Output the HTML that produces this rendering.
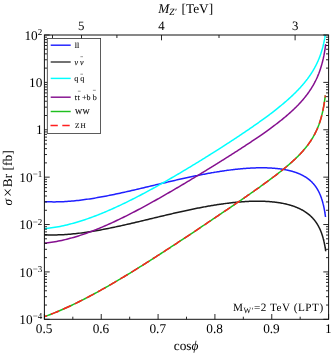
<!DOCTYPE html>
<html><head><meta charset="utf-8"><title>plot</title>
<style>html,body{margin:0;padding:0;background:#fff;}body{width:332px;height:355px;overflow:hidden;position:relative;font-family:"Liberation Serif",serif;}</style></head>
<body>
<svg width="332" height="355" viewBox="0 0 332 355" style="position:absolute;left:0;top:0">
<rect width="332" height="355" fill="#fff"/>
<g fill="none" stroke-width="1.5" stroke-linejoin="round">
<path d="M44.50,201.64 L46.26,201.72 L48.01,201.79 L49.75,201.84 L51.49,201.87 L53.22,201.88 L54.95,201.88 L56.66,201.86 L58.37,201.83 L60.08,201.78 L61.78,201.71 L63.47,201.63 L65.15,201.54 L66.83,201.44 L68.50,201.32 L70.17,201.19 L71.83,201.05 L73.48,200.90 L75.13,200.74 L76.77,200.57 L78.40,200.39 L80.03,200.20 L81.65,200.00 L83.26,199.79 L84.87,199.58 L86.47,199.35 L88.06,199.12 L89.65,198.89 L91.23,198.64 L92.81,198.39 L94.38,198.14 L95.94,197.88 L97.50,197.61 L99.05,197.34 L100.59,197.06 L102.13,196.78 L103.66,196.50 L105.18,196.21 L106.70,195.91 L108.21,195.62 L109.72,195.32 L111.22,195.02 L112.71,194.71 L114.20,194.40 L115.68,194.09 L117.16,193.78 L118.62,193.47 L120.09,193.15 L121.54,192.83 L122.99,192.52 L124.43,192.20 L125.87,191.87 L127.30,191.55 L128.73,191.23 L130.15,190.91 L131.56,190.58 L132.97,190.26 L134.37,189.93 L135.76,189.61 L137.15,189.29 L138.53,188.96 L139.91,188.64 L141.27,188.32 L142.64,187.99 L144.00,187.67 L145.35,187.35 L146.69,187.03 L148.03,186.71 L149.37,186.39 L150.69,186.08 L152.01,185.76 L153.33,185.45 L154.64,185.14 L155.94,184.83 L157.24,184.52 L158.53,184.21 L159.82,183.90 L161.10,183.60 L162.37,183.30 L163.64,183.00 L164.90,182.70 L166.15,182.41 L167.40,182.11 L168.65,181.82 L169.89,181.53 L171.12,181.25 L172.34,180.96 L173.56,180.68 L174.78,180.40 L175.99,180.13 L177.19,179.85 L178.39,179.58 L179.58,179.31 L180.76,179.05 L181.94,178.78 L183.12,178.52 L184.29,178.27 L185.45,178.01 L186.60,177.76 L187.75,177.51 L188.90,177.26 L190.04,177.02 L191.17,176.78 L192.30,176.54 L193.42,176.31 L194.54,176.08 L195.65,175.85 L196.75,175.63 L197.85,175.41 L198.95,175.19 L200.04,174.97 L201.12,174.76 L202.20,174.55 L203.27,174.34 L204.33,174.14 L205.39,173.94 L206.45,173.74 L207.50,173.55 L208.54,173.36 L209.58,173.17 L210.61,172.99 L211.64,172.81 L212.66,172.63 L213.67,172.46 L214.68,172.29 L215.69,172.12 L216.69,171.96 L217.68,171.80 L218.67,171.64 L219.65,171.48 L220.63,171.33 L221.60,171.18 L222.57,171.04 L223.53,170.90 L224.48,170.76 L225.43,170.62 L226.38,170.49 L227.32,170.36 L228.25,170.24 L229.18,170.12 L230.11,170.00 L231.02,169.88 L231.94,169.77 L232.84,169.66 L233.75,169.55 L234.64,169.45 L235.53,169.35 L236.42,169.25 L237.30,169.16 L238.18,169.07 L239.05,168.98 L239.91,168.90 L240.77,168.82 L241.63,168.74 L242.48,168.67 L243.32,168.59 L244.16,168.53 L245.00,168.46 L245.83,168.40 L246.65,168.34 L247.47,168.28 L248.28,168.23 L249.09,168.18 L249.89,168.13 L250.69,168.09 L251.49,168.05 L252.27,168.01 L253.06,167.97 L253.84,167.94 L254.61,167.91 L255.38,167.89 L256.14,167.86 L256.90,167.84 L257.65,167.83 L258.40,167.81 L259.14,167.80 L259.88,167.79 L260.61,167.79 L261.34,167.78 L262.06,167.78 L262.78,167.79 L263.50,167.79 L264.21,167.80 L264.91,167.81 L265.61,167.83 L266.30,167.85 L266.99,167.87 L267.68,167.89 L268.35,167.92 L269.03,167.94 L269.70,167.98 L270.36,168.01 L271.02,168.05 L271.68,168.09 L272.33,168.13 L272.98,168.17 L273.62,168.22 L274.25,168.27 L274.89,168.33 L275.51,168.38 L276.14,168.44 L276.75,168.51 L277.37,168.57 L277.98,168.64 L278.58,168.71 L279.18,168.78 L279.77,168.86 L280.36,168.93 L280.95,169.01 L281.53,169.10 L282.11,169.19 L282.68,169.27 L283.25,169.37 L283.81,169.46 L284.37,169.56 L284.92,169.66 L285.47,169.76 L286.01,169.87 L286.55,169.97 L287.09,170.08 L287.62,170.20 L288.15,170.31 L288.67,170.43 L289.19,170.55 L289.70,170.68 L290.21,170.80 L290.72,170.93 L291.22,171.07 L291.71,171.20 L292.20,171.34 L292.69,171.48 L293.17,171.62 L293.65,171.77 L294.13,171.92 L294.60,172.07 L295.06,172.22 L295.53,172.38 L295.98,172.54 L296.44,172.70 L296.89,172.86 L297.33,173.03 L297.77,173.20 L298.21,173.38 L298.64,173.55 L299.07,173.73 L299.49,173.91 L299.91,174.10 L300.33,174.28 L300.74,174.47 L301.15,174.67 L301.55,174.86 L301.95,175.06 L302.35,175.26 L302.74,175.46 L303.13,175.67 L303.51,175.88 L303.89,176.09 L304.27,176.31 L304.64,176.53 L305.01,176.75 L305.37,176.97 L305.73,177.20 L306.09,177.43 L306.44,177.66 L306.79,177.90 L307.13,178.14 L307.47,178.38 L307.81,178.62 L308.14,178.87 L308.47,179.12 L308.80,179.37 L309.12,179.63 L309.44,179.89 L309.75,180.15 L310.06,180.42 L310.37,180.69 L310.67,180.96 L310.97,181.23 L311.27,181.51 L311.56,181.79 L311.85,182.08 L312.13,182.36 L312.42,182.65 L312.69,182.95 L312.97,183.24 L313.24,183.54 L313.51,183.85 L313.77,184.15 L314.03,184.46 L314.29,184.77 L314.54,185.09 L314.79,185.40 L315.04,185.72 L315.28,186.05 L315.52,186.37 L315.75,186.70 L315.99,187.04 L316.22,187.37 L316.44,187.71 L316.66,188.05 L316.88,188.40 L317.10,188.75 L317.31,189.10 L317.52,189.45 L317.73,189.81 L317.93,190.17 L318.13,190.53 L318.33,190.89 L318.52,191.26 L318.71,191.63 L318.90,192.00 L319.08,192.38 L319.26,192.75 L319.44,193.13 L319.61,193.52 L319.79,193.90 L319.95,194.29 L320.12,194.68 L320.28,195.07 L320.44,195.46 L320.60,195.85 L320.75,196.25 L320.90,196.65 L321.05,197.05 L321.20,197.45 L321.34,197.85 L321.48,198.25 L321.61,198.66 L321.75,199.06 L321.88,199.47 L322.01,199.88 L322.13,200.28 L322.25,200.69 L322.37,201.10 L322.49,201.51 L322.60,201.91 L322.72,202.32 L322.83,202.73 L322.93,203.13 L323.04,203.53 L323.14,203.94 L323.24,204.34 L323.33,204.74 L323.43,205.13 L323.52,205.53 L323.61,205.92 L323.69,206.31 L323.78,206.69 L323.86,207.08 L323.94,207.45 L324.01,207.83 L324.09,208.20 L324.16,208.56 L324.23,208.92 L324.30,209.28 L324.37,209.63 L324.43,209.97 L324.49,210.31 L324.55,210.64 L324.61,210.97 L324.66,211.29 L324.71,211.60 L324.76,211.90 L324.81,212.20 L324.86,212.48 L324.90,212.76 L324.95,213.03 L324.99,213.30 L325.03,213.55 L325.06,213.80 L325.10,214.03 L325.13,214.26 L325.17,214.47 L325.20,214.68 L325.22,214.88 L325.25,215.06 L325.28,215.24 L325.30,215.41 L325.32,215.57 L325.34,215.72 L325.36,215.85 L325.38,215.98 L325.39,216.10 L325.41,216.21 L325.42,216.31 L325.44,216.40 L325.45,216.49 L325.46,216.56 L325.46,216.62 L325.47,216.68 L325.48,216.73 L325.48,216.77 L325.49,216.81 L325.49,216.83 L325.50,216.86 L325.50,216.87 L325.50,216.88 L325.50,216.89 L325.50,216.89 L325.50,216.89" stroke="#1f1fff"/>
<path d="M44.50,234.76 L46.26,234.83 L48.01,234.89 L49.76,234.93 L51.49,234.95 L53.23,234.95 L54.95,234.94 L56.67,234.91 L58.38,234.86 L60.09,234.81 L61.79,234.73 L63.48,234.64 L65.17,234.54 L66.85,234.43 L68.52,234.31 L70.19,234.17 L71.85,234.02 L73.50,233.86 L75.15,233.69 L76.79,233.51 L78.42,233.33 L80.05,233.13 L81.67,232.92 L83.29,232.71 L84.90,232.49 L86.50,232.26 L88.10,232.02 L89.68,231.78 L91.27,231.53 L92.84,231.27 L94.41,231.01 L95.98,230.74 L97.54,230.47 L99.09,230.19 L100.63,229.91 L102.17,229.62 L103.70,229.33 L105.23,229.04 L106.75,228.74 L108.26,228.44 L109.77,228.13 L111.27,227.82 L112.76,227.51 L114.25,227.20 L115.73,226.89 L117.21,226.57 L118.68,226.25 L120.14,225.93 L121.60,225.61 L123.05,225.28 L124.49,224.96 L125.93,224.63 L127.36,224.31 L128.79,223.98 L130.21,223.65 L131.62,223.32 L133.03,223.00 L134.43,222.67 L135.82,222.34 L137.21,222.01 L138.60,221.68 L139.97,221.36 L141.34,221.03 L142.71,220.71 L144.07,220.38 L145.42,220.06 L146.77,219.73 L148.11,219.41 L149.44,219.09 L150.77,218.77 L152.09,218.46 L153.41,218.14 L154.72,217.82 L156.02,217.51 L157.32,217.20 L158.61,216.89 L159.90,216.58 L161.18,216.28 L162.45,215.98 L163.72,215.68 L164.98,215.38 L166.24,215.08 L167.49,214.79 L168.74,214.49 L169.97,214.20 L171.21,213.92 L172.43,213.63 L173.66,213.35 L174.87,213.07 L176.08,212.80 L177.28,212.52 L178.48,212.25 L179.67,211.98 L180.86,211.72 L182.04,211.46 L183.22,211.20 L184.38,210.94 L185.55,210.69 L186.70,210.44 L187.86,210.19 L189.00,209.95 L190.14,209.71 L191.28,209.47 L192.41,209.24 L193.53,209.00 L194.65,208.78 L195.76,208.55 L196.86,208.33 L197.96,208.11 L199.06,207.90 L200.15,207.68 L201.23,207.48 L202.31,207.27 L203.38,207.07 L204.45,206.87 L205.51,206.68 L206.56,206.48 L207.61,206.30 L208.66,206.11 L209.69,205.93 L210.73,205.75 L211.76,205.58 L212.78,205.41 L213.79,205.24 L214.80,205.08 L215.81,204.92 L216.81,204.76 L217.80,204.60 L218.79,204.45 L219.78,204.31 L220.75,204.16 L221.73,204.02 L222.69,203.89 L223.66,203.75 L224.61,203.62 L225.56,203.50 L226.51,203.38 L227.45,203.26 L228.38,203.14 L229.31,203.03 L230.24,202.92 L231.16,202.81 L232.07,202.71 L232.98,202.61 L233.88,202.52 L234.78,202.42 L235.67,202.34 L236.56,202.25 L237.44,202.17 L238.32,202.09 L239.19,202.02 L240.05,201.94 L240.91,201.88 L241.77,201.81 L242.62,201.75 L243.46,201.69 L244.30,201.63 L245.14,201.58 L245.97,201.53 L246.79,201.49 L247.61,201.45 L248.43,201.41 L249.24,201.37 L250.04,201.34 L250.84,201.31 L251.63,201.28 L252.42,201.26 L253.21,201.24 L253.98,201.23 L254.76,201.21 L255.53,201.20 L256.29,201.20 L257.05,201.19 L257.80,201.19 L258.55,201.19 L259.29,201.20 L260.03,201.21 L260.77,201.22 L261.50,201.23 L262.22,201.25 L262.94,201.27 L263.65,201.30 L264.36,201.32 L265.07,201.35 L265.77,201.39 L266.46,201.42 L267.15,201.46 L267.83,201.50 L268.51,201.55 L269.19,201.60 L269.86,201.65 L270.53,201.70 L271.19,201.76 L271.84,201.82 L272.49,201.88 L273.14,201.95 L273.78,202.01 L274.42,202.09 L275.05,202.16 L275.68,202.24 L276.30,202.32 L276.92,202.40 L277.53,202.48 L278.14,202.57 L278.75,202.66 L279.35,202.76 L279.94,202.85 L280.53,202.95 L281.12,203.06 L281.70,203.16 L282.28,203.27 L282.85,203.38 L283.41,203.49 L283.98,203.61 L284.54,203.73 L285.09,203.85 L285.64,203.97 L286.19,204.10 L286.73,204.23 L287.26,204.36 L287.79,204.50 L288.32,204.63 L288.84,204.77 L289.36,204.92 L289.88,205.06 L290.39,205.21 L290.89,205.36 L291.39,205.52 L291.89,205.67 L292.38,205.83 L292.87,205.99 L293.35,206.16 L293.83,206.32 L294.31,206.49 L294.78,206.67 L295.24,206.84 L295.70,207.02 L296.16,207.20 L296.62,207.38 L297.07,207.57 L297.51,207.76 L297.95,207.95 L298.39,208.14 L298.82,208.34 L299.25,208.54 L299.68,208.74 L300.10,208.94 L300.51,209.15 L300.92,209.36 L301.33,209.57 L301.74,209.78 L302.14,210.00 L302.53,210.22 L302.92,210.44 L303.31,210.67 L303.70,210.89 L304.08,211.12 L304.45,211.36 L304.82,211.59 L305.19,211.83 L305.56,212.07 L305.92,212.32 L306.27,212.56 L306.63,212.81 L306.98,213.06 L307.32,213.32 L307.66,213.57 L308.00,213.83 L308.33,214.09 L308.66,214.36 L308.99,214.62 L309.31,214.89 L309.63,215.17 L309.94,215.44 L310.25,215.72 L310.56,216.00 L310.86,216.28 L311.16,216.57 L311.46,216.86 L311.75,217.15 L312.04,217.44 L312.33,217.74 L312.61,218.04 L312.88,218.34 L313.16,218.64 L313.43,218.95 L313.70,219.26 L313.96,219.57 L314.22,219.88 L314.48,220.20 L314.73,220.52 L314.98,220.84 L315.23,221.17 L315.47,221.49 L315.71,221.82 L315.95,222.15 L316.18,222.49 L316.41,222.83 L316.63,223.16 L316.86,223.51 L317.08,223.85 L317.29,224.20 L317.51,224.55 L317.72,224.90 L317.92,225.25 L318.12,225.61 L318.32,225.96 L318.52,226.32 L318.71,226.69 L318.91,227.05 L319.09,227.42 L319.28,227.78 L319.46,228.15 L319.64,228.52 L319.81,228.90 L319.98,229.27 L320.15,229.65 L320.32,230.03 L320.48,230.41 L320.64,230.79 L320.79,231.17 L320.95,231.56 L321.10,231.94 L321.25,232.33 L321.39,232.71 L321.53,233.10 L321.67,233.49 L321.81,233.88 L321.94,234.27 L322.07,234.66 L322.20,235.05 L322.33,235.44 L322.45,235.83 L322.57,236.22 L322.69,236.61 L322.80,236.99 L322.91,237.38 L323.02,237.77 L323.13,238.15 L323.23,238.54 L323.34,238.92 L323.43,239.30 L323.53,239.68 L323.62,240.06 L323.72,240.43 L323.81,240.80 L323.89,241.17 L323.98,241.53 L324.06,241.90 L324.14,242.25 L324.21,242.61 L324.29,242.96 L324.36,243.30 L324.43,243.64 L324.50,243.98 L324.56,244.31 L324.63,244.63 L324.69,244.95 L324.75,245.26 L324.81,245.57 L324.86,245.87 L324.91,246.16 L324.96,246.45 L325.01,246.73 L325.06,247.00 L325.10,247.26 L325.15,247.52 L325.19,247.76 L325.23,248.00 L325.26,248.23 L325.30,248.45 L325.33,248.67 L325.37,248.87 L325.40,249.07 L325.42,249.25 L325.45,249.43 L325.48,249.60 L325.50,249.75 L325.52,249.90 L325.54,250.04 L325.56,250.17 L325.58,250.29 L325.59,250.41 L325.61,250.51 L325.62,250.60 L325.64,250.69 L325.65,250.77 L325.66,250.84 L325.66,250.90 L325.67,250.95 L325.68,251.00 L325.68,251.04 L325.69,251.07 L325.69,251.10 L325.70,251.12 L325.70,251.13 L325.70,251.14 L325.70,251.15 L325.70,251.15 L325.70,251.15" stroke="#1a1a1a"/>
<path d="M44.50,228.65 L46.26,228.48 L48.01,228.29 L49.75,228.08 L51.48,227.85 L53.21,227.60 L54.94,227.32 L56.65,227.03 L58.36,226.72 L60.07,226.39 L61.76,226.05 L63.46,225.69 L65.14,225.31 L66.82,224.91 L68.49,224.50 L70.15,224.08 L71.81,223.64 L73.46,223.19 L75.11,222.73 L76.74,222.25 L78.38,221.76 L80.00,221.26 L81.62,220.75 L83.23,220.22 L84.84,219.69 L86.44,219.15 L88.03,218.59 L89.62,218.03 L91.20,217.46 L92.78,216.88 L94.34,216.29 L95.90,215.69 L97.46,215.09 L99.01,214.48 L100.55,213.86 L102.09,213.24 L103.62,212.61 L105.14,211.97 L106.66,211.33 L108.17,210.68 L109.67,210.02 L111.17,209.36 L112.66,208.70 L114.15,208.03 L115.63,207.36 L117.10,206.68 L118.57,206.00 L120.03,205.32 L121.49,204.63 L122.94,203.94 L124.38,203.25 L125.81,202.55 L127.24,201.85 L128.67,201.15 L130.09,200.45 L131.50,199.74 L132.90,199.03 L134.30,198.32 L135.69,197.61 L137.08,196.90 L138.46,196.18 L139.84,195.47 L141.21,194.75 L142.57,194.03 L143.93,193.32 L145.28,192.60 L146.62,191.88 L147.96,191.16 L149.29,190.44 L150.62,189.71 L151.94,188.99 L153.25,188.27 L154.56,187.55 L155.86,186.83 L157.16,186.11 L158.45,185.39 L159.73,184.67 L161.01,183.95 L162.29,183.23 L163.55,182.51 L164.81,181.80 L166.07,181.08 L167.32,180.37 L168.56,179.65 L169.80,178.94 L171.03,178.23 L172.25,177.52 L173.47,176.81 L174.69,176.10 L175.89,175.39 L177.10,174.68 L178.29,173.98 L179.48,173.28 L180.67,172.58 L181.85,171.88 L183.02,171.18 L184.19,170.48 L185.35,169.79 L186.50,169.10 L187.65,168.41 L188.80,167.72 L189.94,167.03 L191.07,166.34 L192.20,165.66 L193.32,164.98 L194.43,164.30 L195.54,163.62 L196.65,162.95 L197.75,162.28 L198.84,161.60 L199.93,160.94 L201.01,160.27 L202.08,159.60 L203.15,158.94 L204.22,158.28 L205.28,157.62 L206.33,156.97 L207.38,156.32 L208.42,155.66 L209.46,155.01 L210.49,154.37 L211.52,153.72 L212.54,153.08 L213.55,152.44 L214.56,151.80 L215.57,151.17 L216.56,150.54 L217.56,149.91 L218.55,149.28 L219.53,148.65 L220.50,148.03 L221.48,147.41 L222.44,146.79 L223.40,146.17 L224.36,145.56 L225.31,144.94 L226.25,144.33 L227.19,143.73 L228.12,143.12 L229.05,142.52 L229.97,141.92 L230.89,141.32 L231.80,140.72 L232.71,140.13 L233.61,139.54 L234.51,138.95 L235.40,138.36 L236.28,137.78 L237.16,137.19 L238.04,136.61 L238.91,136.03 L239.77,135.46 L240.63,134.88 L241.49,134.31 L242.34,133.74 L243.18,133.18 L244.02,132.61 L244.85,132.05 L245.68,131.49 L246.51,130.93 L247.32,130.37 L248.14,129.81 L248.95,129.26 L249.75,128.71 L250.55,128.16 L251.34,127.61 L252.13,127.07 L252.91,126.53 L253.69,125.99 L254.46,125.45 L255.23,124.91 L255.99,124.37 L256.75,123.84 L257.50,123.31 L258.25,122.78 L258.99,122.25 L259.73,121.73 L260.46,121.20 L261.19,120.68 L261.91,120.16 L262.63,119.64 L263.34,119.12 L264.05,118.60 L264.75,118.09 L265.45,117.58 L266.14,117.07 L266.83,116.56 L267.52,116.05 L268.20,115.54 L268.87,115.04 L269.54,114.54 L270.20,114.03 L270.86,113.53 L271.52,113.04 L272.17,112.54 L272.81,112.04 L273.46,111.55 L274.09,111.06 L274.72,110.56 L275.35,110.07 L275.97,109.58 L276.59,109.10 L277.20,108.61 L277.81,108.12 L278.41,107.64 L279.01,107.16 L279.61,106.68 L280.20,106.19 L280.78,105.71 L281.36,105.24 L281.94,104.76 L282.51,104.28 L283.08,103.81 L283.64,103.33 L284.20,102.86 L284.75,102.39 L285.30,101.92 L285.84,101.45 L286.38,100.98 L286.92,100.51 L287.45,100.04 L287.97,99.57 L288.50,99.11 L289.01,98.64 L289.53,98.18 L290.04,97.71 L290.54,97.25 L291.04,96.79 L291.54,96.33 L292.03,95.87 L292.51,95.41 L293.00,94.95 L293.48,94.49 L293.95,94.03 L294.42,93.57 L294.89,93.12 L295.35,92.66 L295.80,92.20 L296.26,91.75 L296.71,91.29 L297.15,90.84 L297.59,90.38 L298.03,89.93 L298.46,89.48 L298.89,89.02 L299.31,88.57 L299.73,88.12 L300.15,87.67 L300.56,87.21 L300.97,86.76 L301.37,86.31 L301.77,85.86 L302.17,85.41 L302.56,84.96 L302.94,84.51 L303.33,84.06 L303.71,83.61 L304.08,83.16 L304.45,82.71 L304.82,82.26 L305.19,81.81 L305.55,81.36 L305.90,80.91 L306.25,80.46 L306.60,80.01 L306.95,79.56 L307.29,79.12 L307.62,78.67 L307.96,78.22 L308.29,77.77 L308.61,77.32 L308.93,76.87 L309.25,76.42 L309.56,75.97 L309.87,75.52 L310.18,75.07 L310.48,74.62 L310.78,74.17 L311.08,73.73 L311.37,73.28 L311.66,72.83 L311.94,72.38 L312.23,71.93 L312.50,71.48 L312.78,71.03 L313.05,70.58 L313.31,70.13 L313.58,69.68 L313.84,69.23 L314.09,68.78 L314.35,68.33 L314.60,67.88 L314.84,67.42 L315.09,66.97 L315.32,66.52 L315.56,66.07 L315.79,65.62 L316.02,65.17 L316.25,64.72 L316.47,64.27 L316.69,63.82 L316.90,63.37 L317.12,62.92 L317.33,62.47 L317.53,62.02 L317.74,61.57 L317.94,61.13 L318.13,60.68 L318.32,60.23 L318.51,59.78 L318.70,59.33 L318.89,58.89 L319.07,58.44 L319.24,58.00 L319.42,57.55 L319.59,57.11 L319.76,56.66 L319.92,56.22 L320.09,55.78 L320.25,55.34 L320.40,54.90 L320.56,54.46 L320.71,54.03 L320.85,53.59 L321.00,53.16 L321.14,52.73 L321.28,52.29 L321.42,51.87 L321.55,51.44 L321.68,51.01 L321.81,50.59 L321.93,50.17 L322.06,49.75 L322.18,49.34 L322.29,48.93 L322.41,48.52 L322.52,48.11 L322.63,47.71 L322.73,47.31 L322.84,46.91 L322.94,46.52 L323.04,46.13 L323.13,45.74 L323.23,45.36 L323.32,44.98 L323.41,44.61 L323.49,44.24 L323.58,43.88 L323.66,43.52 L323.74,43.17 L323.82,42.82 L323.89,42.48 L323.96,42.15 L324.03,41.82 L324.10,41.49 L324.17,41.17 L324.23,40.86 L324.29,40.56 L324.35,40.26 L324.41,39.97 L324.46,39.69 L324.51,39.42 L324.56,39.15 L324.61,38.89 L324.66,38.64 L324.70,38.39 L324.75,38.16 L324.79,37.93 L324.83,37.71 L324.86,37.50 L324.90,37.30 L324.93,37.10 L324.97,36.92 L325.00,36.74 L325.02,36.57 L325.05,36.41 L325.08,36.26 L325.10,36.12 L325.12,35.99 L325.14,35.86 L325.16,35.75 L325.18,35.64 L325.19,35.54 L325.21,35.45 L325.22,35.36 L325.24,35.29 L325.25,35.22 L325.26,35.16 L325.26,35.10 L325.27,35.05 L325.28,35.01 L325.28,34.98 L325.29,34.95 L325.29,34.93 L325.30,34.91 L325.30,34.89 L325.30,34.88 L325.30,34.88 L325.30,34.88 L325.30,34.88" stroke="#00ffff"/>
<path d="M44.50,243.08 L46.26,242.91 L48.01,242.72 L49.76,242.50 L51.49,242.26 L53.23,242.00 L54.95,241.72 L56.67,241.42 L58.38,241.10 L60.09,240.76 L61.79,240.40 L63.48,240.02 L65.17,239.63 L66.85,239.22 L68.52,238.79 L70.19,238.35 L71.85,237.90 L73.50,237.43 L75.15,236.94 L76.79,236.45 L78.42,235.94 L80.05,235.41 L81.67,234.88 L83.29,234.34 L84.90,233.78 L86.50,233.22 L88.10,232.64 L89.68,232.06 L91.27,231.46 L92.84,230.86 L94.41,230.25 L95.98,229.63 L97.54,229.00 L99.09,228.37 L100.63,227.73 L102.17,227.08 L103.70,226.42 L105.23,225.76 L106.75,225.10 L108.26,224.43 L109.77,223.75 L111.27,223.07 L112.76,222.39 L114.25,221.70 L115.73,221.00 L117.21,220.30 L118.68,219.60 L120.14,218.90 L121.60,218.19 L123.05,217.48 L124.49,216.76 L125.93,216.05 L127.36,215.33 L128.79,214.61 L130.21,213.89 L131.62,213.16 L133.03,212.44 L134.43,211.71 L135.82,210.98 L137.21,210.25 L138.60,209.52 L139.97,208.79 L141.34,208.06 L142.71,207.32 L144.07,206.59 L145.42,205.86 L146.77,205.12 L148.11,204.39 L149.44,203.66 L150.77,202.92 L152.09,202.19 L153.41,201.46 L154.72,200.73 L156.02,199.99 L157.32,199.26 L158.61,198.53 L159.90,197.81 L161.18,197.08 L162.45,196.35 L163.72,195.63 L164.98,194.90 L166.24,194.18 L167.49,193.46 L168.74,192.74 L169.97,192.02 L171.21,191.30 L172.43,190.59 L173.66,189.87 L174.87,189.16 L176.08,188.45 L177.28,187.74 L178.48,187.04 L179.67,186.33 L180.86,185.63 L182.04,184.93 L183.22,184.23 L184.38,183.54 L185.55,182.85 L186.70,182.15 L187.86,181.47 L189.00,180.78 L190.14,180.09 L191.28,179.41 L192.41,178.73 L193.53,178.06 L194.65,177.38 L195.76,176.71 L196.86,176.04 L197.96,175.37 L199.06,174.71 L200.15,174.04 L201.23,173.38 L202.31,172.73 L203.38,172.07 L204.45,171.42 L205.51,170.77 L206.56,170.12 L207.61,169.48 L208.66,168.83 L209.69,168.19 L210.73,167.56 L211.76,166.92 L212.78,166.29 L213.79,165.66 L214.80,165.04 L215.81,164.41 L216.81,163.79 L217.80,163.17 L218.79,162.56 L219.78,161.94 L220.75,161.33 L221.73,160.72 L222.69,160.12 L223.66,159.52 L224.61,158.91 L225.56,158.32 L226.51,157.72 L227.45,157.13 L228.38,156.54 L229.31,155.95 L230.24,155.36 L231.16,154.78 L232.07,154.20 L232.98,153.62 L233.88,153.05 L234.78,152.47 L235.67,151.90 L236.56,151.33 L237.44,150.77 L238.32,150.20 L239.19,149.64 L240.05,149.08 L240.91,148.53 L241.77,147.97 L242.62,147.42 L243.46,146.87 L244.30,146.32 L245.14,145.77 L245.97,145.23 L246.79,144.69 L247.61,144.15 L248.43,143.61 L249.24,143.08 L250.04,142.54 L250.84,142.01 L251.63,141.48 L252.42,140.96 L253.21,140.43 L253.98,139.91 L254.76,139.39 L255.53,138.87 L256.29,138.35 L257.05,137.83 L257.80,137.32 L258.55,136.81 L259.29,136.30 L260.03,135.79 L260.77,135.28 L261.50,134.78 L262.22,134.27 L262.94,133.77 L263.65,133.27 L264.36,132.77 L265.07,132.28 L265.77,131.78 L266.46,131.29 L267.15,130.79 L267.83,130.30 L268.51,129.81 L269.19,129.32 L269.86,128.84 L270.53,128.35 L271.19,127.87 L271.84,127.38 L272.49,126.90 L273.14,126.42 L273.78,125.94 L274.42,125.46 L275.05,124.98 L275.68,124.51 L276.30,124.03 L276.92,123.56 L277.53,123.09 L278.14,122.61 L278.75,122.14 L279.35,121.67 L279.94,121.20 L280.53,120.74 L281.12,120.27 L281.70,119.80 L282.28,119.34 L282.85,118.87 L283.41,118.41 L283.98,117.94 L284.54,117.48 L285.09,117.02 L285.64,116.56 L286.19,116.10 L286.73,115.64 L287.26,115.18 L287.79,114.72 L288.32,114.26 L288.84,113.80 L289.36,113.34 L289.88,112.89 L290.39,112.43 L290.89,111.97 L291.39,111.52 L291.89,111.06 L292.38,110.61 L292.87,110.15 L293.35,109.69 L293.83,109.24 L294.31,108.79 L294.78,108.33 L295.24,107.88 L295.70,107.42 L296.16,106.97 L296.62,106.51 L297.07,106.06 L297.51,105.60 L297.95,105.15 L298.39,104.70 L298.82,104.24 L299.25,103.79 L299.68,103.33 L300.10,102.88 L300.51,102.42 L300.92,101.97 L301.33,101.51 L301.74,101.06 L302.14,100.60 L302.53,100.15 L302.92,99.69 L303.31,99.23 L303.70,98.77 L304.08,98.32 L304.45,97.86 L304.82,97.40 L305.19,96.94 L305.56,96.48 L305.92,96.02 L306.27,95.56 L306.63,95.10 L306.98,94.64 L307.32,94.18 L307.66,93.72 L308.00,93.25 L308.33,92.79 L308.66,92.33 L308.99,91.86 L309.31,91.40 L309.63,90.93 L309.94,90.46 L310.25,90.00 L310.56,89.53 L310.86,89.06 L311.16,88.59 L311.46,88.12 L311.75,87.65 L312.04,87.18 L312.33,86.70 L312.61,86.23 L312.88,85.76 L313.16,85.28 L313.43,84.81 L313.70,84.33 L313.96,83.85 L314.22,83.37 L314.48,82.90 L314.73,82.42 L314.98,81.94 L315.23,81.46 L315.47,80.97 L315.71,80.49 L315.95,80.01 L316.18,79.52 L316.41,79.04 L316.63,78.55 L316.86,78.07 L317.08,77.58 L317.29,77.09 L317.51,76.61 L317.72,76.12 L317.92,75.63 L318.12,75.14 L318.32,74.65 L318.52,74.16 L318.71,73.67 L318.91,73.18 L319.09,72.69 L319.28,72.19 L319.46,71.70 L319.64,71.21 L319.81,70.72 L319.98,70.23 L320.15,69.74 L320.32,69.24 L320.48,68.75 L320.64,68.26 L320.79,67.77 L320.95,67.28 L321.10,66.79 L321.25,66.30 L321.39,65.81 L321.53,65.33 L321.67,64.84 L321.81,64.36 L321.94,63.87 L322.07,63.39 L322.20,62.91 L322.33,62.43 L322.45,61.95 L322.57,61.48 L322.69,61.01 L322.80,60.54 L322.91,60.07 L323.02,59.60 L323.13,59.14 L323.23,58.68 L323.34,58.23 L323.43,57.77 L323.53,57.32 L323.62,56.88 L323.72,56.44 L323.81,56.00 L323.89,55.57 L323.98,55.15 L324.06,54.73 L324.14,54.31 L324.21,53.90 L324.29,53.49 L324.36,53.10 L324.43,52.70 L324.50,52.32 L324.56,51.94 L324.63,51.57 L324.69,51.21 L324.75,50.85 L324.81,50.50 L324.86,50.16 L324.91,49.83 L324.96,49.51 L325.01,49.19 L325.06,48.89 L325.10,48.59 L325.15,48.31 L325.19,48.03 L325.23,47.76 L325.26,47.50 L325.30,47.26 L325.33,47.02 L325.37,46.79 L325.40,46.58 L325.42,46.37 L325.45,46.17 L325.48,45.99 L325.50,45.81 L325.52,45.65 L325.54,45.50 L325.56,45.35 L325.58,45.22 L325.59,45.09 L325.61,44.98 L325.62,44.88 L325.64,44.78 L325.65,44.70 L325.66,44.62 L325.66,44.55 L325.67,44.49 L325.68,44.44 L325.68,44.40 L325.69,44.36 L325.69,44.33 L325.70,44.31 L325.70,44.29 L325.70,44.28 L325.70,44.28 L325.70,44.27 L325.70,44.27" stroke="#85108f"/>
<path d="M44.50,316.67 L46.26,316.03 L48.01,315.38 L49.75,314.71 L51.48,314.04 L53.21,313.35 L54.94,312.66 L56.65,311.95 L58.36,311.23 L60.07,310.51 L61.76,309.77 L63.46,309.03 L65.14,308.28 L66.82,307.52 L68.49,306.76 L70.15,305.98 L71.81,305.20 L73.46,304.42 L75.11,303.62 L76.74,302.83 L78.38,302.02 L80.00,301.21 L81.62,300.40 L83.23,299.58 L84.84,298.76 L86.44,297.93 L88.03,297.10 L89.62,296.26 L91.20,295.42 L92.78,294.58 L94.34,293.74 L95.90,292.89 L97.46,292.04 L99.01,291.19 L100.55,290.33 L102.09,289.47 L103.62,288.61 L105.14,287.75 L106.66,286.89 L108.17,286.03 L109.67,285.16 L111.17,284.30 L112.66,283.43 L114.15,282.56 L115.63,281.70 L117.10,280.83 L118.57,279.96 L120.03,279.09 L121.49,278.22 L122.94,277.35 L124.38,276.49 L125.81,275.62 L127.24,274.75 L128.67,273.88 L130.09,273.02 L131.50,272.15 L132.90,271.29 L134.30,270.43 L135.69,269.56 L137.08,268.70 L138.46,267.84 L139.84,266.98 L141.21,266.13 L142.57,265.27 L143.93,264.42 L145.28,263.57 L146.62,262.72 L147.96,261.87 L149.29,261.02 L150.62,260.18 L151.94,259.34 L153.25,258.50 L154.56,257.66 L155.86,256.82 L157.16,255.99 L158.45,255.16 L159.73,254.33 L161.01,253.50 L162.29,252.68 L163.55,251.86 L164.81,251.04 L166.07,250.23 L167.32,249.41 L168.56,248.60 L169.80,247.79 L171.03,246.99 L172.25,246.19 L173.47,245.39 L174.69,244.59 L175.89,243.80 L177.10,243.01 L178.29,242.22 L179.48,241.44 L180.67,240.66 L181.85,239.88 L183.02,239.11 L184.19,238.33 L185.35,237.57 L186.50,236.80 L187.65,236.04 L188.80,235.28 L189.94,234.52 L191.07,233.77 L192.20,233.02 L193.32,232.28 L194.43,231.53 L195.54,230.80 L196.65,230.06 L197.75,229.33 L198.84,228.60 L199.93,227.87 L201.01,227.15 L202.08,226.43 L203.15,225.71 L204.22,225.00 L205.28,224.29 L206.33,223.58 L207.38,222.88 L208.42,222.18 L209.46,221.49 L210.49,220.79 L211.52,220.10 L212.54,219.42 L213.55,218.74 L214.56,218.06 L215.57,217.38 L216.56,216.71 L217.56,216.04 L218.55,215.37 L219.53,214.71 L220.50,214.05 L221.48,213.39 L222.44,212.74 L223.40,212.09 L224.36,211.44 L225.31,210.80 L226.25,210.16 L227.19,209.52 L228.12,208.89 L229.05,208.26 L229.97,207.63 L230.89,207.01 L231.80,206.39 L232.71,205.77 L233.61,205.16 L234.51,204.54 L235.40,203.94 L236.28,203.33 L237.16,202.73 L238.04,202.13 L238.91,201.53 L239.77,200.94 L240.63,200.35 L241.49,199.76 L242.34,199.18 L243.18,198.60 L244.02,198.02 L244.85,197.44 L245.68,196.87 L246.51,196.30 L247.32,195.73 L248.14,195.17 L248.95,194.60 L249.75,194.05 L250.55,193.49 L251.34,192.94 L252.13,192.39 L252.91,191.84 L253.69,191.29 L254.46,190.75 L255.23,190.21 L255.99,189.67 L256.75,189.14 L257.50,188.60 L258.25,188.07 L258.99,187.55 L259.73,187.02 L260.46,186.50 L261.19,185.98 L261.91,185.46 L262.63,184.94 L263.34,184.43 L264.05,183.92 L264.75,183.41 L265.45,182.90 L266.14,182.40 L266.83,181.89 L267.52,181.39 L268.20,180.89 L268.87,180.40 L269.54,179.90 L270.20,179.41 L270.86,178.92 L271.52,178.43 L272.17,177.95 L272.81,177.46 L273.46,176.98 L274.09,176.50 L274.72,176.02 L275.35,175.54 L275.97,175.06 L276.59,174.59 L277.20,174.12 L277.81,173.65 L278.41,173.18 L279.01,172.71 L279.61,172.24 L280.20,171.78 L280.78,171.32 L281.36,170.85 L281.94,170.39 L282.51,169.93 L283.08,169.48 L283.64,169.02 L284.20,168.56 L284.75,168.11 L285.30,167.66 L285.84,167.21 L286.38,166.76 L286.92,166.31 L287.45,165.86 L287.97,165.41 L288.50,164.96 L289.01,164.52 L289.53,164.07 L290.04,163.63 L290.54,163.18 L291.04,162.74 L291.54,162.30 L292.03,161.86 L292.51,161.42 L293.00,160.98 L293.48,160.54 L293.95,160.10 L294.42,159.66 L294.89,159.23 L295.35,158.79 L295.80,158.35 L296.26,157.92 L296.71,157.48 L297.15,157.04 L297.59,156.61 L298.03,156.17 L298.46,155.74 L298.89,155.30 L299.31,154.87 L299.73,154.43 L300.15,154.00 L300.56,153.56 L300.97,153.13 L301.37,152.69 L301.77,152.26 L302.17,151.82 L302.56,151.39 L302.94,150.95 L303.33,150.52 L303.71,150.08 L304.08,149.64 L304.45,149.21 L304.82,148.77 L305.19,148.33 L305.55,147.89 L305.90,147.45 L306.25,147.01 L306.60,146.57 L306.95,146.13 L307.29,145.69 L307.62,145.25 L307.96,144.81 L308.29,144.36 L308.61,143.92 L308.93,143.47 L309.25,143.02 L309.56,142.58 L309.87,142.13 L310.18,141.68 L310.48,141.23 L310.78,140.78 L311.08,140.32 L311.37,139.87 L311.66,139.42 L311.94,138.96 L312.23,138.50 L312.50,138.05 L312.78,137.59 L313.05,137.13 L313.31,136.66 L313.58,136.20 L313.84,135.74 L314.09,135.27 L314.35,134.80 L314.60,134.33 L314.84,133.86 L315.09,133.39 L315.32,132.92 L315.56,132.45 L315.79,131.97 L316.02,131.49 L316.25,131.01 L316.47,130.54 L316.69,130.05 L316.90,129.57 L317.12,129.09 L317.33,128.60 L317.53,128.12 L317.74,127.63 L317.94,127.14 L318.13,126.65 L318.32,126.16 L318.51,125.67 L318.70,125.17 L318.89,124.68 L319.07,124.18 L319.24,123.69 L319.42,123.19 L319.59,122.69 L319.76,122.19 L319.92,121.69 L320.09,121.19 L320.25,120.69 L320.40,120.19 L320.56,119.69 L320.71,119.19 L320.85,118.68 L321.00,118.18 L321.14,117.68 L321.28,117.18 L321.42,116.68 L321.55,116.18 L321.68,115.68 L321.81,115.18 L321.93,114.68 L322.06,114.18 L322.18,113.69 L322.29,113.20 L322.41,112.70 L322.52,112.21 L322.63,111.73 L322.73,111.24 L322.84,110.76 L322.94,110.28 L323.04,109.80 L323.13,109.33 L323.23,108.86 L323.32,108.39 L323.41,107.93 L323.49,107.48 L323.58,107.03 L323.66,106.58 L323.74,106.14 L323.82,105.70 L323.89,105.27 L323.96,104.85 L324.03,104.43 L324.10,104.02 L324.17,103.62 L324.23,103.22 L324.29,102.83 L324.35,102.45 L324.41,102.08 L324.46,101.72 L324.51,101.36 L324.56,101.02 L324.61,100.68 L324.66,100.35 L324.70,100.04 L324.75,99.73 L324.79,99.43 L324.83,99.15 L324.86,98.87 L324.90,98.60 L324.93,98.35 L324.97,98.11 L325.00,97.87 L325.02,97.65 L325.05,97.44 L325.08,97.24 L325.10,97.06 L325.12,96.88 L325.14,96.71 L325.16,96.56 L325.18,96.42 L325.19,96.28 L325.21,96.16 L325.22,96.05 L325.24,95.95 L325.25,95.86 L325.26,95.78 L325.26,95.70 L325.27,95.64 L325.28,95.58 L325.28,95.54 L325.29,95.50 L325.29,95.47 L325.30,95.44 L325.30,95.43 L325.30,95.41 L325.30,95.41 L325.30,95.40 L325.30,95.40" stroke="#1fbf1f"/>
<path d="M44.50,316.67 L46.26,316.03 L48.01,315.38 L49.75,314.71 L51.48,314.04 L53.21,313.35 L54.94,312.66 L56.65,311.95 L58.36,311.23 L60.07,310.51 L61.76,309.77 L63.46,309.03 L65.14,308.28 L66.82,307.52 L68.49,306.76 L70.15,305.98 L71.81,305.20 L73.46,304.42 L75.11,303.62 L76.74,302.83 L78.38,302.02 L80.00,301.21 L81.62,300.40 L83.23,299.58 L84.84,298.76 L86.44,297.93 L88.03,297.10 L89.62,296.26 L91.20,295.42 L92.78,294.58 L94.34,293.74 L95.90,292.89 L97.46,292.04 L99.01,291.19 L100.55,290.33 L102.09,289.47 L103.62,288.61 L105.14,287.75 L106.66,286.89 L108.17,286.03 L109.67,285.16 L111.17,284.30 L112.66,283.43 L114.15,282.56 L115.63,281.70 L117.10,280.83 L118.57,279.96 L120.03,279.09 L121.49,278.22 L122.94,277.35 L124.38,276.49 L125.81,275.62 L127.24,274.75 L128.67,273.88 L130.09,273.02 L131.50,272.15 L132.90,271.29 L134.30,270.43 L135.69,269.56 L137.08,268.70 L138.46,267.84 L139.84,266.98 L141.21,266.13 L142.57,265.27 L143.93,264.42 L145.28,263.57 L146.62,262.72 L147.96,261.87 L149.29,261.02 L150.62,260.18 L151.94,259.34 L153.25,258.50 L154.56,257.66 L155.86,256.82 L157.16,255.99 L158.45,255.16 L159.73,254.33 L161.01,253.50 L162.29,252.68 L163.55,251.86 L164.81,251.04 L166.07,250.23 L167.32,249.41 L168.56,248.60 L169.80,247.79 L171.03,246.99 L172.25,246.19 L173.47,245.39 L174.69,244.59 L175.89,243.80 L177.10,243.01 L178.29,242.22 L179.48,241.44 L180.67,240.66 L181.85,239.88 L183.02,239.11 L184.19,238.33 L185.35,237.57 L186.50,236.80 L187.65,236.04 L188.80,235.28 L189.94,234.52 L191.07,233.77 L192.20,233.02 L193.32,232.28 L194.43,231.53 L195.54,230.80 L196.65,230.06 L197.75,229.33 L198.84,228.60 L199.93,227.87 L201.01,227.15 L202.08,226.43 L203.15,225.71 L204.22,225.00 L205.28,224.29 L206.33,223.58 L207.38,222.88 L208.42,222.18 L209.46,221.49 L210.49,220.79 L211.52,220.10 L212.54,219.42 L213.55,218.74 L214.56,218.06 L215.57,217.38 L216.56,216.71 L217.56,216.04 L218.55,215.37 L219.53,214.71 L220.50,214.05 L221.48,213.39 L222.44,212.74 L223.40,212.09 L224.36,211.44 L225.31,210.80 L226.25,210.16 L227.19,209.52 L228.12,208.89 L229.05,208.26 L229.97,207.63 L230.89,207.01 L231.80,206.39 L232.71,205.77 L233.61,205.16 L234.51,204.54 L235.40,203.94 L236.28,203.33 L237.16,202.73 L238.04,202.13 L238.91,201.53 L239.77,200.94 L240.63,200.35 L241.49,199.76 L242.34,199.18 L243.18,198.60 L244.02,198.02 L244.85,197.44 L245.68,196.87 L246.51,196.30 L247.32,195.73 L248.14,195.17 L248.95,194.60 L249.75,194.05 L250.55,193.49 L251.34,192.94 L252.13,192.39 L252.91,191.84 L253.69,191.29 L254.46,190.75 L255.23,190.21 L255.99,189.67 L256.75,189.14 L257.50,188.60 L258.25,188.07 L258.99,187.55 L259.73,187.02 L260.46,186.50 L261.19,185.98 L261.91,185.46 L262.63,184.94 L263.34,184.43 L264.05,183.92 L264.75,183.41 L265.45,182.90 L266.14,182.40 L266.83,181.89 L267.52,181.39 L268.20,180.89 L268.87,180.40 L269.54,179.90 L270.20,179.41 L270.86,178.92 L271.52,178.43 L272.17,177.95 L272.81,177.46 L273.46,176.98 L274.09,176.50 L274.72,176.02 L275.35,175.54 L275.97,175.06 L276.59,174.59 L277.20,174.12 L277.81,173.65 L278.41,173.18 L279.01,172.71 L279.61,172.24 L280.20,171.78 L280.78,171.32 L281.36,170.85 L281.94,170.39 L282.51,169.93 L283.08,169.48 L283.64,169.02 L284.20,168.56 L284.75,168.11 L285.30,167.66 L285.84,167.21 L286.38,166.76 L286.92,166.31 L287.45,165.86 L287.97,165.41 L288.50,164.96 L289.01,164.52 L289.53,164.07 L290.04,163.63 L290.54,163.18 L291.04,162.74 L291.54,162.30 L292.03,161.86 L292.51,161.42 L293.00,160.98 L293.48,160.54 L293.95,160.10 L294.42,159.66 L294.89,159.23 L295.35,158.79 L295.80,158.35 L296.26,157.92 L296.71,157.48 L297.15,157.04 L297.59,156.61 L298.03,156.17 L298.46,155.74 L298.89,155.30 L299.31,154.87 L299.73,154.43 L300.15,154.00 L300.56,153.56 L300.97,153.13 L301.37,152.69 L301.77,152.26 L302.17,151.82 L302.56,151.39 L302.94,150.95 L303.33,150.52 L303.71,150.08 L304.08,149.64 L304.45,149.21 L304.82,148.77 L305.19,148.33 L305.55,147.89 L305.90,147.45 L306.25,147.01 L306.60,146.57 L306.95,146.13 L307.29,145.69 L307.62,145.25 L307.96,144.81 L308.29,144.36 L308.61,143.92 L308.93,143.47 L309.25,143.02 L309.56,142.58 L309.87,142.13 L310.18,141.68 L310.48,141.23 L310.78,140.78 L311.08,140.32 L311.37,139.87 L311.66,139.42 L311.94,138.96 L312.23,138.50 L312.50,138.05 L312.78,137.59 L313.05,137.13 L313.31,136.66 L313.58,136.20 L313.84,135.74 L314.09,135.27 L314.35,134.80 L314.60,134.33 L314.84,133.86 L315.09,133.39 L315.32,132.92 L315.56,132.45 L315.79,131.97 L316.02,131.49 L316.25,131.01 L316.47,130.54 L316.69,130.05 L316.90,129.57 L317.12,129.09 L317.33,128.60 L317.53,128.12 L317.74,127.63 L317.94,127.14 L318.13,126.65 L318.32,126.16 L318.51,125.67 L318.70,125.17 L318.89,124.68 L319.07,124.18 L319.24,123.69 L319.42,123.19 L319.59,122.69 L319.76,122.19 L319.92,121.69 L320.09,121.19 L320.25,120.69 L320.40,120.19 L320.56,119.69 L320.71,119.19 L320.85,118.68 L321.00,118.18 L321.14,117.68 L321.28,117.18 L321.42,116.68 L321.55,116.18 L321.68,115.68 L321.81,115.18 L321.93,114.68 L322.06,114.18 L322.18,113.69 L322.29,113.20 L322.41,112.70 L322.52,112.21 L322.63,111.73 L322.73,111.24 L322.84,110.76 L322.94,110.28 L323.04,109.80 L323.13,109.33 L323.23,108.86 L323.32,108.39 L323.41,107.93 L323.49,107.48 L323.58,107.03 L323.66,106.58 L323.74,106.14 L323.82,105.70 L323.89,105.27 L323.96,104.85 L324.03,104.43 L324.10,104.02 L324.17,103.62 L324.23,103.22 L324.29,102.83 L324.35,102.45 L324.41,102.08 L324.46,101.72 L324.51,101.36 L324.56,101.02 L324.61,100.68 L324.66,100.35 L324.70,100.04 L324.75,99.73 L324.79,99.43 L324.83,99.15 L324.86,98.87 L324.90,98.60 L324.93,98.35 L324.97,98.11 L325.00,97.87 L325.02,97.65 L325.05,97.44 L325.08,97.24 L325.10,97.06 L325.12,96.88 L325.14,96.71 L325.16,96.56 L325.18,96.42 L325.19,96.28 L325.21,96.16 L325.22,96.05 L325.24,95.95 L325.25,95.86 L325.26,95.78 L325.26,95.70 L325.27,95.64 L325.28,95.58 L325.28,95.54 L325.29,95.50 L325.29,95.47 L325.30,95.44 L325.30,95.43 L325.30,95.41 L325.30,95.41 L325.30,95.40 L325.30,95.40" stroke="#ff1f1f" stroke-dasharray="2.59 4.40 8.52 4.40 8.59 4.40 8.62 4.40 8.62 4.40 8.60 4.40 8.54 4.40 8.47 4.40 8.37 4.40 8.27 4.40 8.15 4.40 8.02 4.40 7.90 4.40 7.77 4.40 7.66 4.40 7.55 4.40 7.45 4.40 7.37 4.40 7.32 4.40 7.29 4.40 7.28 4.40 7.31 4.40 7.38 4.40 7.49 4.40 7.64 4.40 7.84 4.40 8.09 4.40 8.40 4.40 8.77 4.40 9.21 4.40 50.00 0.00"/>
</g>
<g stroke="#111" stroke-width="1" fill="none">
<rect x="44.4" y="35.0" width="284.20" height="284.30"/>
<path d="M44.40,319.3 v-5.3 M72.82,319.3 v-2.6 M101.24,319.3 v-5.3 M129.66,319.3 v-2.6 M158.08,319.3 v-5.3 M186.50,319.3 v-2.6 M214.92,319.3 v-5.3 M243.34,319.3 v-2.6 M271.76,319.3 v-5.3 M300.18,319.3 v-2.6 M328.60,319.3 v-5.3 M81.50,35.0 v5.3 M161.50,35.0 v5.3 M295.10,35.0 v5.3 M52.50,35.0 v3.0 M116.90,35.0 v3.0 M219.00,35.0 v3.0 M44.4,319.30 h5.3 M328.6,319.30 h-5.3 M44.4,305.04 h2.6 M328.6,305.04 h-2.6 M44.4,296.69 h2.6 M328.6,296.69 h-2.6 M44.4,290.77 h2.6 M328.6,290.77 h-2.6 M44.4,286.18 h2.6 M328.6,286.18 h-2.6 M44.4,282.43 h2.6 M328.6,282.43 h-2.6 M44.4,279.26 h2.6 M328.6,279.26 h-2.6 M44.4,276.51 h2.6 M328.6,276.51 h-2.6 M44.4,274.08 h2.6 M328.6,274.08 h-2.6 M44.4,271.92 h5.3 M328.6,271.92 h-5.3 M44.4,257.65 h2.6 M328.6,257.65 h-2.6 M44.4,249.31 h2.6 M328.6,249.31 h-2.6 M44.4,243.39 h2.6 M328.6,243.39 h-2.6 M44.4,238.80 h2.6 M328.6,238.80 h-2.6 M44.4,235.05 h2.6 M328.6,235.05 h-2.6 M44.4,231.87 h2.6 M328.6,231.87 h-2.6 M44.4,229.13 h2.6 M328.6,229.13 h-2.6 M44.4,226.70 h2.6 M328.6,226.70 h-2.6 M44.4,224.53 h5.3 M328.6,224.53 h-5.3 M44.4,210.27 h2.6 M328.6,210.27 h-2.6 M44.4,201.93 h2.6 M328.6,201.93 h-2.6 M44.4,196.01 h2.6 M328.6,196.01 h-2.6 M44.4,191.41 h2.6 M328.6,191.41 h-2.6 M44.4,187.66 h2.6 M328.6,187.66 h-2.6 M44.4,184.49 h2.6 M328.6,184.49 h-2.6 M44.4,181.74 h2.6 M328.6,181.74 h-2.6 M44.4,179.32 h2.6 M328.6,179.32 h-2.6 M44.4,177.15 h5.3 M328.6,177.15 h-5.3 M44.4,162.89 h2.6 M328.6,162.89 h-2.6 M44.4,154.54 h2.6 M328.6,154.54 h-2.6 M44.4,148.62 h2.6 M328.6,148.62 h-2.6 M44.4,144.03 h2.6 M328.6,144.03 h-2.6 M44.4,140.28 h2.6 M328.6,140.28 h-2.6 M44.4,137.11 h2.6 M328.6,137.11 h-2.6 M44.4,134.36 h2.6 M328.6,134.36 h-2.6 M44.4,131.93 h2.6 M328.6,131.93 h-2.6 M44.4,129.77 h5.3 M328.6,129.77 h-5.3 M44.4,115.50 h2.6 M328.6,115.50 h-2.6 M44.4,107.16 h2.6 M328.6,107.16 h-2.6 M44.4,101.24 h2.6 M328.6,101.24 h-2.6 M44.4,96.65 h2.6 M328.6,96.65 h-2.6 M44.4,92.90 h2.6 M328.6,92.90 h-2.6 M44.4,89.72 h2.6 M328.6,89.72 h-2.6 M44.4,86.98 h2.6 M328.6,86.98 h-2.6 M44.4,84.55 h2.6 M328.6,84.55 h-2.6 M44.4,82.38 h5.3 M328.6,82.38 h-5.3 M44.4,68.12 h2.6 M328.6,68.12 h-2.6 M44.4,59.78 h2.6 M328.6,59.78 h-2.6 M44.4,53.86 h2.6 M328.6,53.86 h-2.6 M44.4,49.26 h2.6 M328.6,49.26 h-2.6 M44.4,45.51 h2.6 M328.6,45.51 h-2.6 M44.4,42.34 h2.6 M328.6,42.34 h-2.6 M44.4,39.59 h2.6 M328.6,39.59 h-2.6 M44.4,37.17 h2.6 M328.6,37.17 h-2.6 M44.4,35.00 h5.3 M328.6,35.00 h-5.3" stroke-width="0.9"/>
<rect x="47.3" y="38.4" width="53.3" height="95.0" fill="#fff" stroke="#333" stroke-width="0.8"/>
</g>
<path d="M50.7,45.2 H70.7" stroke="#1f1fff" stroke-width="1.45" fill="none"/>
<path d="M50.7,62.0 H70.7" stroke="#3c3c3c" stroke-width="1.45" fill="none"/>
<path d="M50.7,78.4 H70.7" stroke="#00ffff" stroke-width="1.45" fill="none"/>
<path d="M50.7,97.2 H70.7" stroke="#85108f" stroke-width="1.45" fill="none"/>
<path d="M50.7,111.5 H70.7" stroke="#1fbf1f" stroke-width="1.45" fill="none"/>
<path d="M50.5,125.4 H57.8 M62.3,125.4 H69.7" stroke="#ff1f1f" stroke-width="1.45" fill="none"/>
<path d="M80.4,56.7 H83.0 M80.4,74.2 H83.0 M77.9,91.2 H80.6 M92.9,90.3 H95.8" stroke="#555" stroke-width="0.6" fill="none"/>
<g font-family="Liberation Serif, serif" fill="#000" style="filter:grayscale(1)" text-rendering="geometricPrecision">
<g stroke="#000" stroke-width="0.1">
<text x="74.7" y="48.0" font-size="8">ll</text>
<text y="64.6" font-size="8" font-style="italic"><tspan x="74.6">ν</tspan><tspan x="79.9">ν</tspan></text>
<text y="80.6" font-size="8"><tspan x="74.2">q</tspan><tspan x="80.3">q</tspan></text>
<text y="99.9" font-size="8"><tspan x="74.7">t</tspan><tspan x="77.4">t</tspan><tspan x="81.9">+</tspan><tspan x="86.6">b</tspan><tspan x="92.7">b</tspan></text>
<text y="113.9" font-size="7.6"><tspan x="74.9">W</tspan><tspan x="82.6">W</tspan></text>
<text y="127.7" font-size="7.3"><tspan x="75.0">Z</tspan><tspan x="80.6">H</tspan></text>
</g>
<text x="44.10" y="333.1" font-size="13.3" text-anchor="middle">0.5</text>
<text x="100.94" y="333.1" font-size="13.3" text-anchor="middle">0.6</text>
<text x="157.78" y="333.1" font-size="13.3" text-anchor="middle">0.7</text>
<text x="214.62" y="333.1" font-size="13.3" text-anchor="middle">0.8</text>
<text x="271.46" y="333.1" font-size="13.3" text-anchor="middle">0.9</text>
<text x="328.30" y="333.1" font-size="13.3" text-anchor="middle">1</text>
<text x="81.3" y="30.0" font-size="12.8" text-anchor="middle">5</text>
<text x="161.5" y="30.0" font-size="12.8" text-anchor="middle">4</text>
<text x="295.1" y="30.0" font-size="12.8" text-anchor="middle">3</text>
<text x="42.3" y="323.90" font-size="13.3" text-anchor="end">10<tspan font-size="9" dy="-4.5" dx="0.1">−4</tspan></text>
<text x="42.3" y="276.52" font-size="13.3" text-anchor="end">10<tspan font-size="9" dy="-4.5" dx="0.1">−3</tspan></text>
<text x="42.3" y="229.13" font-size="13.3" text-anchor="end">10<tspan font-size="9" dy="-4.5" dx="0.1">−2</tspan></text>
<text x="42.3" y="181.75" font-size="13.3" text-anchor="end">10<tspan font-size="9" dy="-4.5" dx="0.1">−1</tspan></text>
<text x="42.6" y="134.17" font-size="13.3" text-anchor="end">1</text>
<text x="42.4" y="86.88" font-size="13.3" text-anchor="end">10</text>
<text x="42.3" y="39.60" font-size="13.3" text-anchor="end">10<tspan font-size="9" dy="-4.5" dx="0.1">2</tspan></text>
<text x="158.2" y="12.6" font-size="13.3"><tspan font-style="italic">M</tspan><tspan font-style="italic" font-size="9.4" dy="2.6">Z′</tspan><tspan dy="-2.6" dx="1.7"> [TeV]</tspan></text>
<text x="186.1" y="350.4" font-size="13.3" text-anchor="middle">cos<tspan font-style="italic">ϕ</tspan></text>
<g transform="translate(12.0,205.6) rotate(-90)" font-size="13.3"><text x="0" y="0" font-style="italic">σ</text><text x="8.7" y="0.9" font-size="16">×</text><text x="18.4" y="0" textLength="36.9" lengthAdjust="spacing">Br [fb]</text></g>
<text x="233.1" y="310.8" font-size="11.2" letter-spacing="0.52">M<tspan font-size="8" dy="2.2">W′</tspan><tspan dy="-2.2">=2 TeV (LPT)</tspan></text>
</g>
</svg>
</body></html>
